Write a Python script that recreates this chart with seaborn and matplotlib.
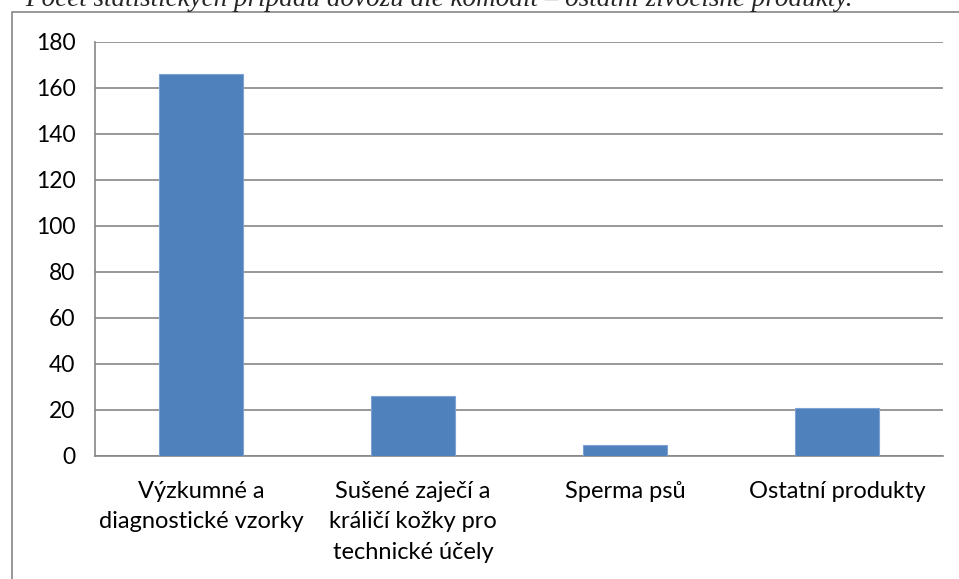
import numpy as np
import pandas as pd
import seaborn as sns
import matplotlib.pyplot as plt
from matplotlib.patches import Rectangle

# data
categories = ['Výzkumné a\ndiagnostické vzorky',
              'Sušené zaječí a\nkráličí kožky pro\ntechnické účely',
              'Sperma psů',
              'Ostatní produkty']
values = [166, 26, 5, 21]
y_ticks = [0, 20, 40, 60, 80, 100, 120, 140, 160, 180]

caption = 'Počet statistických případů dovozu dle komodit – ostatní živočišné produkty.'

sns.set_style('white')
plt.rcParams['font.family'] = ['Lato', 'DejaVu Sans']

gray = '#868686'
bar_color = '#4F81BD'

df = pd.DataFrame({'kategorie': categories, 'pocet': values})

fig = plt.figure(figsize=(9.59, 5.79), dpi=100)
ax = fig.add_axes([95 / 959, 123 / 579, 848 / 959, 414 / 579])

sns.barplot(data=df, x='kategorie', y='pocet', color=bar_color, width=0.4,
            saturation=1, edgecolor='#7da2d4', linewidth=0.8, ax=ax, zorder=3)

ax.set_ylim(0, 180)
ax.set_xlim(-0.5, len(categories) - 0.5)
ax.set_yticks(y_ticks)
ax.yaxis.grid(True, color=gray, linewidth=1.2)
ax.set_axisbelow(True)
ax.set_xlabel('')
ax.set_ylabel('')

for side in ['top', 'right']:
    ax.spines[side].set_visible(False)
for side in ['left', 'bottom']:
    ax.spines[side].set_color(gray)
    ax.spines[side].set_linewidth(1.2)

ax.tick_params(axis='y', length=7, color=gray, width=1.2, labelsize=16.5,
               labelcolor='black', pad=7)
ax.tick_params(axis='x', which='major', length=0, labelsize=17,
               labelcolor='black', pad=18)
ax.set_xticks(np.arange(-0.5, len(categories)), minor=True)
ax.tick_params(axis='x', which='minor', length=7, color=gray, width=1.2)
for lab in ax.get_xticklabels():
    lab.set_linespacing(1.55)

# outer chart frame (cut by the image edge on right and bottom)
fig.patches.append(Rectangle((12 / 959, -0.1), 1.2, 1 - 12 / 579 + 0.1,
                             transform=fig.transFigure, fill=False,
                             edgecolor=gray, linewidth=1.2))

# caption above the chart, mostly cut off at the top like in the reference
fig.text(25 / 959, 1 - 6 / 579, caption, ha='left', va='baseline',
         fontsize=19.5, style='italic', family='Liberation Serif')

fig.savefig('out.png', dpi=100)
